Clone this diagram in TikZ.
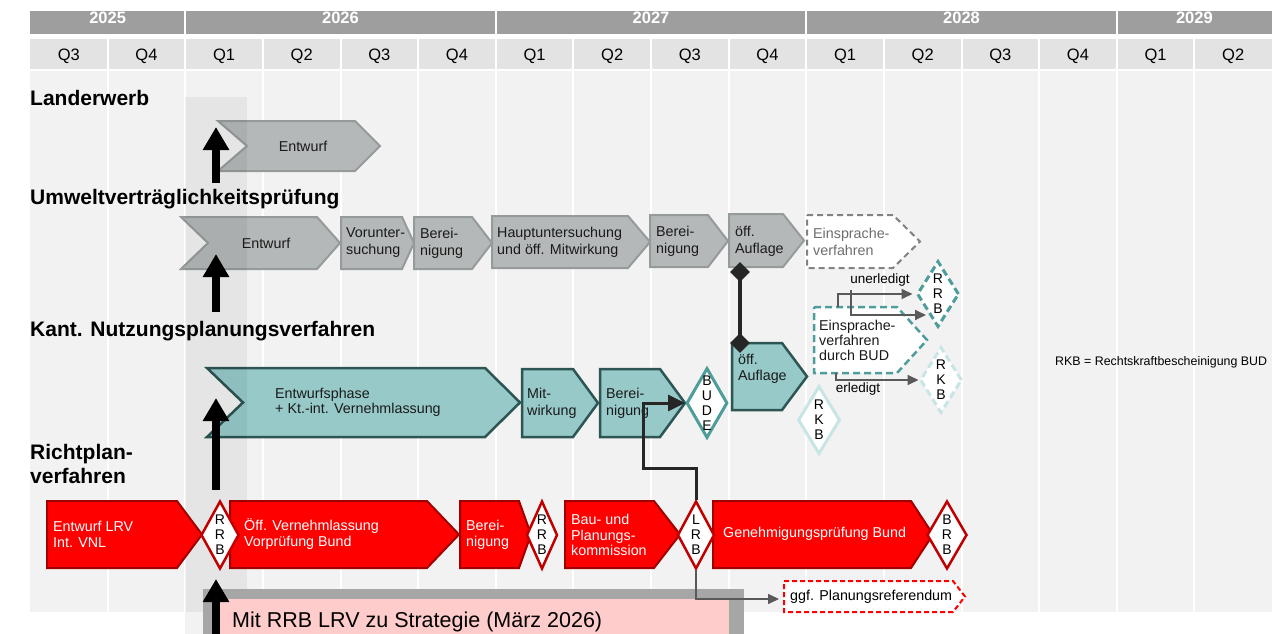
\documentclass[tikz,border=0pt]{standalone}
\usepackage{fontspec}
\setmainfont{Liberation Sans}
\usetikzlibrary{shapes.geometric,arrows.meta}
\definecolor{yeargray}{HTML}{9E9E9E}
\definecolor{qgray}{HTML}{E3E3E3}
\definecolor{bodygray}{HTML}{F2F2F2}
\definecolor{boxgray}{HTML}{B4B8B8}
\definecolor{boxgrayline}{HTML}{959A9A}
\definecolor{tealfill}{HTML}{96C9C8}
\definecolor{tealline}{HTML}{2C5553}
\definecolor{tealmid}{HTML}{4E9D9A}
\definecolor{teallight}{HTML}{C8E5E5}
\definecolor{redfill}{HTML}{FF0000}
\definecolor{redline}{HTML}{A00000}
\definecolor{redmile}{HTML}{C00000}
\definecolor{linkgray}{HTML}{595959}
\definecolor{linkdark}{HTML}{262626}
\definecolor{txtdark}{HTML}{1A1A1A}
\definecolor{txtgray}{HTML}{6E6E6E}
\definecolor{pinkbox}{HTML}{FFCCCC}
\definecolor{framegray}{HTML}{A6A6A6}
% box with a point on the right: style, x1, x2, y1, y2, point
\newcommand{\pentabox}[6]{\draw[#1] (#2,#4) -- ({#3-#6},#4) -- (#3,{(#4+#5)/2}) -- ({#3-#6},#5) -- (#2,#5) -- cycle;}
% same with a notch on the left: ..., notch
\newcommand{\chevbox}[7]{\draw[#1] (#2,#4) -- ({#3-#6},#4) -- (#3,{(#4+#5)/2}) -- ({#3-#6},#5) -- (#2,#5) -- ({#2+#7},{(#4+#5)/2}) -- cycle;}

\begin{document}
\begin{tikzpicture}[x=1pt,y=-1pt,
    rowtitle/.style={anchor=base west,inner sep=0pt,font=\fontsize{21}{24}\selectfont\bfseries},
    qlabel/.style={anchor=base,inner sep=0pt,font=\fontsize{16.5}{18}\selectfont},
    ylabel/.style={anchor=base,inner sep=0pt,text=white,font=\fontsize{16.5}{18}\selectfont\bfseries},
    boxtext/.style={anchor=west,inner sep=0pt,align=left,text=txtdark,font=\fontsize{14.3}{17}\selectfont},
    redtext/.style={boxtext,text=white,font=\fontsize{14.3}{16}\selectfont},
    graybox/.style={fill=boxgray,draw=boxgrayline,line width=2pt},
    graydash/.style={fill=white,draw=boxgrayline!85!black,line width=2pt,dash pattern=on 6pt off 4pt},
    tealbox/.style={fill=tealfill,draw=tealline,line width=2.5pt},
    tealdash/.style={fill=white,draw=tealmid,line width=2.5pt,dash pattern=on 7pt off 4pt},
    redbox/.style={fill=redfill,draw=redline,line width=2pt},
    reddash/.style={fill=white,draw=redfill,line width=2pt,dash pattern=on 5pt off 3pt},
    milestone/.style={diamond,fill=white,draw=redmile,line width=2.5pt,aspect=0.55,inner xsep=0pt,inner ysep=-12pt,
      minimum width=38pt,minimum height=68pt,align=center,text=black,font=\fontsize{14}{15}\selectfont},
    knob/.style={diamond,fill=linkdark,inner sep=0pt,minimum size=20pt},
    uparrow/.style={line width=8pt,-{Triangle[length=23pt,width=25pt]}},
    darklink/.style={draw=linkdark,line width=3pt,-{Triangle[length=17pt,width=16pt]}},
    graylink/.style={draw=linkgray,line width=1.8pt,-{Triangle[length=11pt,width=10pt]}}]
\useasboundingbox (0,0) rectangle (1280,634);

% time grid
\fill[yeargray] (30,11) rectangle (1272,34);
\fill[qgray] (30,39) rectangle (1272,69);
\fill[bodygray] (30,71) rectangle (1272,612);
\foreach \i in {1,...,15}
  \draw[white,line width=2pt] ({30+\i*77.625},39) -- ({30+\i*77.625},612);
\foreach \i in {2,6,10,14}
  \draw[white,line width=2pt] ({30+\i*77.625},11) -- ({30+\i*77.625},34);
\foreach \yr/\c in {2025/1,2026/4,2027/8,2028/12,2029/15}
  \node[ylabel] (y\yr) at ({30+\c*77.625},24) {\yr};
\foreach \l [count=\i from 0] in {Q3,Q4,Q1,Q2,Q3,Q4,Q1,Q2,Q3,Q4,Q1,Q2,Q3,Q4,Q1,Q2}
  \node[qlabel] (q\i) at ({30+(\i+0.5)*77.625},60) {\l};

% Landerwerb
\node[rowtitle] (tland) at (30,106) {Landerwerb};
\chevbox{graybox}{218}{380}{121}{171}{25}{29}
\node[boxtext,anchor=center] (landentw) at (303,146) {Entwurf};

% UVP
\node[rowtitle] (tuvp) at (30,204) {Umweltverträglichkeitsprüfung};
\chevbox{graybox}{181}{340}{217}{269}{23}{27}
\node[boxtext,anchor=center] (uvpentw) at (266,243) {Entwurf};
\pentabox{graybox}{341}{414}{217}{269}{12}
\node[boxtext] (uvpvor) at (346,243) {Vorunter-\\suchung};
\pentabox{graybox}{414}{492}{217}{269}{20}
\node[boxtext] (uvpber) at (420,243) {Berei-\\nigung};
\pentabox{graybox}{492}{650}{216}{268}{22}
\node[boxtext] (uvphaupt) at (497,242) {Hauptuntersuchung\\und öff. Mitwirkung};
\pentabox{graybox}{650}{728}{215}{267}{20}
\node[boxtext] (uvpber2) at (656,241) {Berei-\\nigung};
\pentabox{graybox}{729}{804}{214}{267}{21}
\node[boxtext] (uvpauf) at (735,241) {öff.\\Auflage};
\pentabox{graydash}{807}{920}{215}{268}{27}
\node[boxtext,text=txtgray] (uvpeinspr) at (813,242) {Einsprache-\\verfahren};

% Kant. Nutzungsplanung
\node[rowtitle] (tkant) at (30,336) {Kant. Nutzungsplanungsverfahren};
\chevbox{tealbox}{207}{520}{368}{437}{35}{36}
\node[boxtext,font=\fontsize{14.3}{15}\selectfont] (kantentw) at (275,402) {Entwurfsphase\\+ Kt.-int. Vernehmlassung};
\pentabox{tealbox}{522}{598}{369}{437}{25}
\node[boxtext] (kantmit) at (527,403) {Mit-\\wirkung};
\pentabox{tealbox}{600}{685}{369}{437}{25}
\node[boxtext] (kantber) at (606,403) {Berei-\\nigung};
\node[milestone,draw=tealmid,line width=3pt,minimum width=41pt,minimum height=70pt] (bude) at (707,403) {B\\U\\D\\E};
\pentabox{tealbox}{732}{807}{343}{410}{25}
\node[boxtext,font=\fontsize{14.3}{16}\selectfont] (kantauf) at (738,369) {öff.\\Auflage};
\node[milestone,draw=teallight,line width=3pt,minimum width=42pt] (rkb1) at (819,420) {R\\K\\B};
\pentabox{tealdash}{814}{927}{307}{373}{30}
\node[boxtext,font=\fontsize{14.3}{15}\selectfont] (kanteinspr) at (819,340) {Einsprache-\\verfahren\\durch BUD};
\node[milestone,draw=tealmid,dash pattern=on 7pt off 4pt,line width=3pt,minimum width=42pt,minimum height=66pt] (rrbbud) at (938,294) {R\\R\\B};
\node[milestone,draw=teallight,dash pattern=on 7pt off 4pt,line width=3pt,minimum width=42pt,minimum height=66pt] (rkb2) at (941,380) {R\\K\\B};
\node[anchor=west,inner sep=0pt,font=\fontsize{12.4}{14}\selectfont] (legend) at (1055,362) {RKB = Rechtskraftbescheinigung BUD};

% oeff. Auflage UVP -- Kant.
\node[knob] (k1) at (740,272) {};
\node[knob] (k2) at (740,343) {};
\draw[linkdark,line width=4pt] (k1.center) -- (k2.center);

% Einsprache BUD outcomes
\coordinate (ebudtop) at (838,307);
\coordinate (ebudmid) at (851,290);
\coordinate (rrbin) at (926,315);
\coordinate (ebudbot) at (836,373);
\draw[graylink,shorten >=3pt] (ebudtop) |- (rrbbud.west);
\draw[graylink] (ebudmid) |- (rrbin);
\draw[graylink] (ebudbot) |- (rkb2.west);
\node[inner sep=0pt,font=\fontsize{13.5}{15}\selectfont] (unerl) at (880,280) {unerledigt};
\node[inner sep=0pt,font=\fontsize{13.5}{15}\selectfont] (erl) at (858,389) {erledigt};

% Q1 2026 band
\fill[black,fill opacity=0.05] (185,97) rectangle (247,634);

% Strategie
\fill[framegray] (203,589) rectangle (744,640);
\fill[pinkbox] (215,599) rectangle (729,640);
\node[anchor=base west,inner sep=0pt,font=\fontsize{21.5}{24}\selectfont] (strat) at (232,627) {Mit RRB LRV zu Strategie (März 2026)};

% Richtplanverfahren
\node[rowtitle] (trp1) at (30,459) {Richtplan-};
\node[rowtitle] (trp2) at (30,483) {verfahren};
\pentabox{redbox}{47}{202}{501}{568}{25}
\node[redtext] (rpentw) at (53,534) {Entwurf LRV\\Int. VNL};
\pentabox{redbox}{230}{459}{501}{568}{32}
\node[redtext] (rpvnl) at (244,534) {Öff. Vernehmlassung\\Vorprüfung Bund};
\pentabox{redbox}{460}{531}{501}{568}{12}
\node[redtext] (rpber) at (466,535) {Berei-\\nigung};
\pentabox{redbox}{565}{680}{501}{568}{26}
\node[redtext,font=\fontsize{14.3}{15.5}\selectfont] (rpbpk) at (571,535) {Bau- und\\Planungs-\\kommission};
\pentabox{redbox}{713}{933}{501}{568}{22}
\node[redtext] (rpgen) at (723,534) {Genehmigungsprüfung Bund};
\node[milestone] (rrb1) at (220,535) {R\\R\\B};
\node[milestone,minimum width=31pt] (rrb2) at (542,535) {R\\R\\B};
\node[milestone,minimum width=37pt] (lrb) at (696,535) {L\\R\\B};
\node[milestone,minimum width=40pt] (brb) at (947,535) {B\\R\\B};
\pentabox{reddash}{784}{965}{581}{612}{12}
\node[boxtext,text=black] (ggf) at (790,597) {ggf. Planungsreferendum};
\coordinate (ggfin) at (784,599);
\draw[graylink,line width=1.5pt,shorten >=5pt] (lrb.south) |- (ggfin);
\coordinate (bk1) at (643,468);
\draw[darklink] (lrb.north) |- (bk1) |- (bude.west);

% start arrows
\draw[uparrow] (216,183) -- (216,127);
\draw[uparrow] (216,312) -- (216,254);
\draw[uparrow] (216,490) -- (216,398);
\draw[uparrow] (216,640) -- (216,579);
\end{tikzpicture}
\end{document}
